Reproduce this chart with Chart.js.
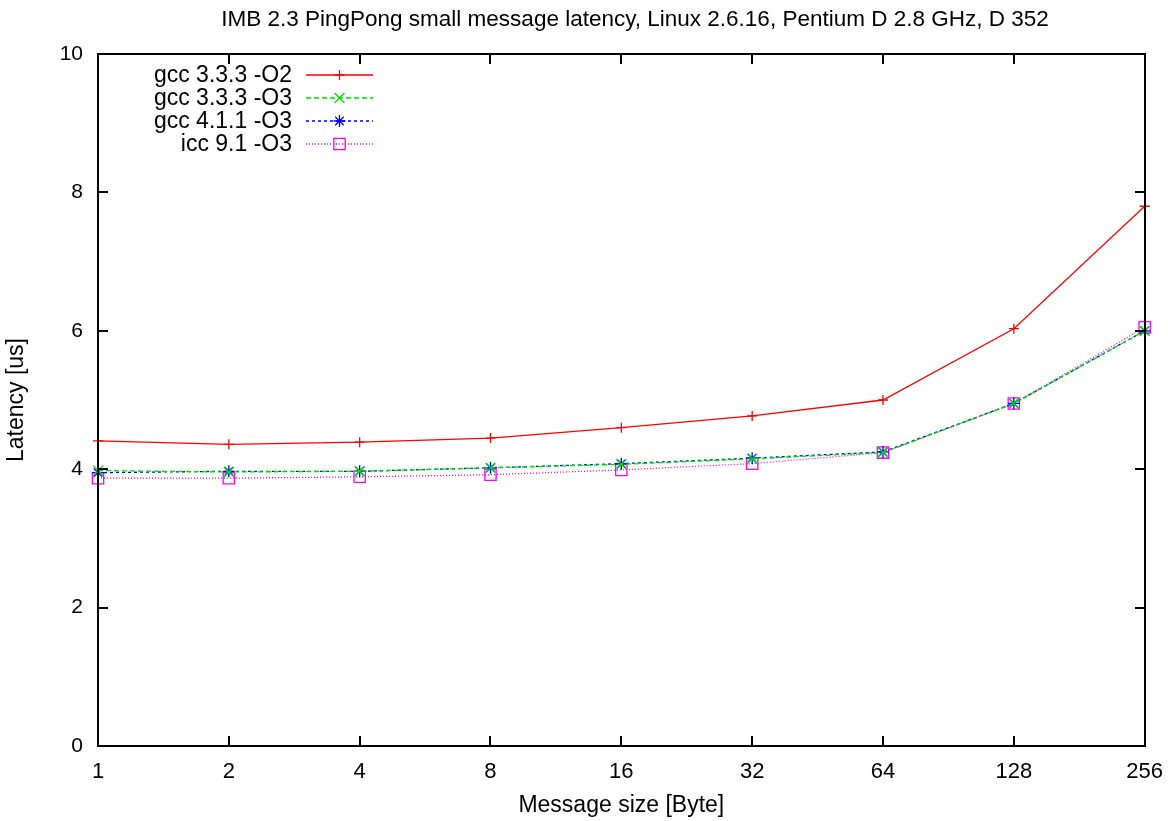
<!DOCTYPE html>
<html>
<head>
<meta charset="utf-8">
<title>IMB PingPong latency</title>
<script src="https://cdn.jsdelivr.net/npm/chart.js@4/dist/chart.umd.min.js"></script>
<style>
  html, body { margin: 0; padding: 0; background: #fff; }
  #wrap { width: 1168px; height: 821px; }
</style>
</head>
<body>
<div id="wrap"><canvas id="chart" width="1168" height="821"></canvas></div>
<script>
// message sizes (bytes) -- plotted on a log2 axis, i.e. evenly spaced
const sizes = ["1", "2", "4", "8", "16", "32", "64", "128", "256"];
const yTicks = [0, 2, 4, 6, 8, 10];

// latency in us
const gcc333O2 = [4.41, 4.36, 4.39, 4.45, 4.60, 4.77, 5.00, 6.03, 7.80];
const gcc333O3 = [3.98, 3.96, 3.97, 4.02, 4.07, 4.15, 4.24, 4.95, 6.00];
const gcc411O3 = [3.95, 3.97, 3.97, 4.02, 4.08, 4.16, 4.25, 4.95, 6.00];
const icc91O3 = [3.87, 3.87, 3.89, 3.92, 3.99, 4.08, 4.24, 4.95, 6.05];

const TITLE = "IMB 2.3 PingPong small message latency, Linux 2.6.16, Pentium D 2.8 GHz, D 352";
const FONT = "'Liberation Sans', Arial, sans-serif";

function series(label, data, color, dash, pointStyle, radius) {
  return {
    label,
    data,
    borderColor: color,
    backgroundColor: "rgba(0,0,0,0)",
    borderWidth: 1.3,
    borderDash: dash,
    pointStyle,
    pointRadius: radius,
    pointBorderColor: color,
    pointBorderWidth: 1.3,
    pointBackgroundColor: "rgba(0,0,0,0)",
    tension: 0,
    clip: false,
  };
}

// gnuplot-style frame: title, border box, inward ticks on all four sides, key top-left
const framePlugin = {
  id: "frame",
  afterDraw(chart) {
    const ctx = chart.ctx;
    const a = chart.chartArea;
    const xs = chart.scales.x;
    const ys = chart.scales.y;
    const tick = 10;
    const L = Math.round(a.left), R = Math.round(a.right);
    const T = Math.round(a.top), B = Math.round(a.bottom);

    ctx.save();
    // title sits a little right of the plot centre, like the original
    ctx.fillStyle = "#000";
    ctx.font = "22.5px " + FONT;
    ctx.textAlign = "center";
    ctx.textBaseline = "middle";
    ctx.fillText(TITLE, 635, 20);

    ctx.strokeStyle = "#000";
    ctx.lineWidth = 2;
    ctx.setLineDash([]);
    ctx.beginPath();
    ctx.rect(L, T, R - L, B - T);
    yTicks.forEach((v) => {
      const y = Math.round(ys.getPixelForValue(v));
      ctx.moveTo(L, y);
      ctx.lineTo(L + tick, y);
      ctx.moveTo(R, y);
      ctx.lineTo(R - tick, y);
    });
    sizes.forEach((s, i) => {
      const x = Math.round(xs.getPixelForValue(i));
      ctx.moveTo(x, B);
      ctx.lineTo(x, B - tick);
      ctx.moveTo(x, T);
      ctx.lineTo(x, T + tick);
    });
    ctx.stroke();

    // key
    ctx.font = "23px " + FONT;
    ctx.textAlign = "right";
    ctx.textBaseline = "middle";
    const textRight = L + 194;
    const lineL = L + 208;
    const lineR = L + 275;
    chart.data.datasets.forEach((ds, i) => {
      const y = T + 21 + i * 23;
      ctx.fillStyle = "#000";
      ctx.fillText(ds.label, textRight, y + 1);

      ctx.beginPath();
      ctx.setLineDash(ds.borderDash);
      ctx.moveTo(lineL, y);
      ctx.lineTo(lineR, y);
      ctx.lineWidth = ds.borderWidth;
      ctx.strokeStyle = ds.borderColor;
      ctx.stroke();
      ctx.setLineDash([]);

      ctx.fillStyle = "rgba(0,0,0,0)";
      Chart.helpers.drawPoint(ctx, {
        pointStyle: ds.pointStyle,
        radius: ds.pointRadius,
        borderWidth: ds.pointBorderWidth,
        rotation: 0,
      }, (lineL + lineR) / 2, y);
    });
    ctx.restore();
  },
};

new Chart(document.getElementById("chart"), {
  type: "line",
  data: {
    labels: sizes,
    datasets: [
      series("gcc 3.3.3 -O2", gcc333O2, "#ff0000", [], "cross", 5),
      series("gcc 3.3.3 -O3", gcc333O3, "#00e000", [5, 3], "crossRot", 7),
      series("gcc 4.1.1 -O3", gcc411O3, "#0000ff", [3, 3], "star", 6),
      series("icc 9.1 -O3", icc91O3, "#ff00ff", [1, 2], "rect", 8),
    ],
  },
  options: {
    responsive: false,
    animation: false,
    events: [],
    layout: { padding: { left: 3, right: 21, top: 54, bottom: 2 } },
    plugins: {
      legend: { display: false },
      tooltip: { enabled: false },
      title: { display: false },
    },
    scales: {
      x: {
        type: "category",
        offset: false,
        grid: { display: false },
        border: { display: false },
        ticks: {
          color: "#000",
          font: { family: FONT, size: 22 },
          maxRotation: 0,
          autoSkip: false,
          padding: 5,
        },
        title: {
          display: true,
          text: "Message size [Byte]",
          color: "#000",
          font: { family: FONT, size: 23 },
          padding: { top: 2, bottom: 0 },
        },
        afterFit(scale) { scale.height = 73; },
      },
      y: {
        min: 0,
        max: 10,
        grid: { display: false },
        border: { display: false },
        afterBuildTicks(scale) { scale.ticks = yTicks.map((v) => ({ value: v })); },
        ticks: {
          color: "#000",
          font: { family: FONT, size: 21 },
          padding: 7,
        },
        title: {
          display: true,
          text: "Latency [us]",
          color: "#000",
          font: { family: FONT, size: 23 },
          padding: { top: 0, bottom: 0 },
        },
        afterFit(scale) { scale.width = 95; },
      },
    },
  },
  plugins: [framePlugin],
});
</script>
</body>
</html>
